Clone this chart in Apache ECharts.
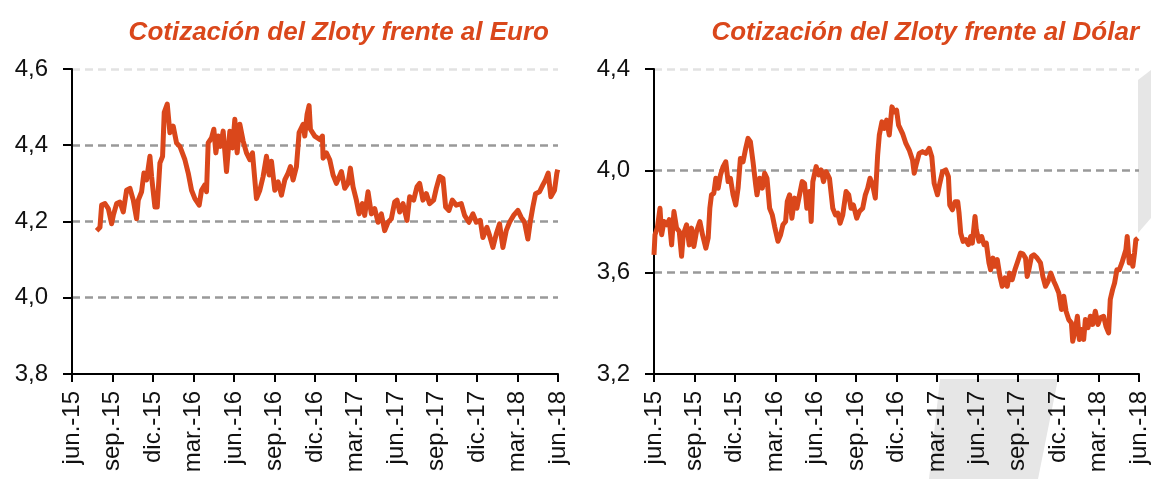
<!DOCTYPE html>
<html>
<head>
<meta charset="utf-8">
<script src="https://cdn.jsdelivr.net/npm/echarts@6/dist/echarts.min.js"></script>
<style>
html,body{margin:0;padding:0;background:#fff;}
#c{width:1151px;height:479px;}
</style>
</head>
<body>
<div id="c"></div>
<script>
// x positions are months since June 2015 (0 = jun.-15, 36 = jun.-18)
const tickLabels = ['jun.-15','sep.-15','dic.-15','mar.-16','jun.-16','sep.-16','dic.-16','mar.-17','jun.-17','sep.-17','dic.-17','mar.-18','jun.-18'];

const eurT = [1.825,2.072,2.195,2.442,2.689,2.935,3.059,3.305,3.552,3.799,4.045,4.292,4.539,4.785,4.909,5.155,5.328,5.525,5.772,5.895,6.142,6.315,6.512,6.709,6.833,7.055,7.252,7.499,7.745,7.992,8.362,8.609,8.855,9.102,9.422,9.595,9.842,9.965,10.088,10.335,10.508,10.656,10.828,11.001,11.198,11.445,11.692,11.889,12.062,12.234,12.432,12.678,12.925,13.172,13.369,13.665,13.912,14.158,14.405,14.602,14.775,15.022,15.268,15.515,15.762,16.008,16.181,16.378,16.625,16.822,17.118,17.242,17.414,17.562,17.661,17.982,
18.352,18.549,18.599,18.845,19.092,19.339,19.585,19.955,20.202,20.449,20.621,20.819,21.065,21.263,21.509,21.682,21.929,22.175,22.422,22.669,22.915,23.162,23.409,23.655,23.902,24.075,24.272,24.518,24.814,25.012,25.308,25.554,25.752,25.998,26.245,26.492,26.788,26.985,27.232,27.478,27.676,27.922,28.169,28.465,28.835,29.082,29.402,29.698,29.945,30.241,30.438,30.734,30.932,31.178,31.425,31.672,31.918,32.165,32.412,32.708,33.028,33.275,33.522,33.768,33.941,34.138,34.335,34.632,34.878,35.076,35.273,35.470,35.742,35.914,35.98];
const eurV = [4.176,4.185,4.243,4.247,4.234,4.194,4.216,4.247,4.251,4.225,4.282,4.287,4.256,4.207,4.256,4.278,4.327,4.309,4.371,4.318,4.238,4.238,4.353,4.371,4.486,4.508,4.433,4.450,4.406,4.397,4.362,4.327,4.282,4.260,4.243,4.282,4.296,4.278,4.406,4.419,4.442,4.380,4.424,4.397,4.437,4.331,4.437,4.393,4.468,4.380,4.455,4.411,4.380,4.362,4.380,4.260,4.282,4.318,4.371,4.322,4.358,4.282,4.304,4.269,4.309,4.327,4.344,4.309,4.344,4.433,4.455,4.424,4.481,4.504,4.442,4.424,
4.415,4.424,4.366,4.380,4.362,4.322,4.300,4.331,4.287,4.300,4.340,4.291,4.256,4.220,4.247,4.216,4.278,4.220,4.234,4.198,4.220,4.176,4.198,4.207,4.251,4.256,4.225,4.247,4.203,4.265,4.256,4.291,4.300,4.256,4.273,4.247,4.256,4.287,4.318,4.313,4.238,4.229,4.256,4.243,4.247,4.216,4.198,4.220,4.198,4.203,4.158,4.185,4.163,4.132,4.167,4.194,4.132,4.176,4.198,4.216,4.229,4.211,4.198,4.154,4.198,4.238,4.273,4.278,4.296,4.309,4.327,4.265,4.282,4.327,4.336];

const usdT = [0.000,0.074,0.247,0.444,0.567,0.740,0.937,1.135,1.307,1.480,1.677,1.875,2.047,2.171,2.417,2.615,2.787,2.960,3.157,3.404,3.601,3.848,4.021,4.144,4.267,4.440,4.588,4.761,4.933,5.131,5.328,5.501,5.673,5.871,6.068,6.240,6.413,6.610,6.808,6.980,7.153,7.350,7.548,7.646,7.844,8.041,8.214,8.386,8.584,8.781,8.954,9.200,9.398,9.570,9.767,9.891,10.064,10.236,10.434,10.606,10.804,11.001,11.174,11.346,11.544,11.667,11.790,12.037,12.234,12.407,12.580,12.777,13.024,13.270,13.468,13.640,13.813,14.010,14.257,14.454,14.627,14.800,15.046,15.244,15.490,15.688,15.860,16.033,16.230,16.427,16.600,16.724,16.921,17.094,17.266,17.464,17.661,17.834,18.006,18.154,
18.451,18.697,18.944,19.191,19.314,19.487,19.684,19.931,20.177,20.424,20.621,20.794,21.041,21.213,21.411,21.657,21.855,21.953,22.151,22.348,22.545,22.644,22.767,22.940,23.137,23.335,23.507,23.631,23.828,23.927,24.124,24.321,24.494,24.667,24.864,24.987,25.160,25.308,25.481,25.678,25.850,26.048,26.220,26.393,26.590,26.788,26.960,27.207,27.380,27.577,27.700,27.824,28.021,28.194,28.440,28.687,28.860,29.057,29.254,29.452,29.674,29.846,30.044,30.241,30.414,30.586,30.784,30.981,31.080,31.277,31.425,31.573,31.721,31.894,32.017,32.214,32.387,32.560,32.757,32.954,33.127,33.374,33.546,33.744,33.867,34.040,34.188,34.360,34.533,34.730,34.878,35.026,35.125,35.273,35.421,35.544,35.668,35.766,35.914];
const usdV = [3.669,3.748,3.774,3.852,3.748,3.800,3.787,3.807,3.708,3.839,3.774,3.761,3.663,3.748,3.787,3.708,3.774,3.702,3.761,3.800,3.748,3.695,3.735,3.852,3.905,3.911,3.970,3.931,3.983,4.016,4.035,3.957,3.970,3.905,3.865,3.931,4.048,4.035,4.088,4.127,4.114,4.035,3.944,3.905,3.970,3.931,3.990,3.970,3.852,3.826,3.780,3.722,3.748,3.787,3.800,3.878,3.905,3.813,3.892,3.852,3.905,3.957,3.950,3.852,3.918,3.800,3.957,4.016,3.983,4.003,3.957,3.996,3.970,3.852,3.826,3.833,3.793,3.826,3.918,3.905,3.852,3.865,3.813,3.839,3.852,3.905,3.931,3.970,3.944,3.892,4.061,4.140,4.192,4.166,4.199,4.140,4.251,4.231,4.238,4.179,
4.146,4.107,4.081,4.042,3.990,4.029,4.068,4.075,4.068,4.088,4.055,3.950,3.905,3.950,3.996,4.003,3.976,3.865,3.846,3.878,3.878,3.833,3.754,3.722,3.729,3.709,3.741,3.715,3.820,3.767,3.722,3.741,3.709,3.715,3.637,3.610,3.656,3.624,3.650,3.584,3.545,3.578,3.545,3.597,3.571,3.610,3.637,3.676,3.673,3.656,3.584,3.610,3.663,3.669,3.656,3.637,3.584,3.545,3.565,3.597,3.565,3.545,3.519,3.454,3.506,3.447,3.414,3.401,3.329,3.375,3.427,3.336,3.375,3.336,3.414,3.382,3.427,3.395,3.447,3.395,3.421,3.427,3.388,3.362,3.493,3.532,3.558,3.610,3.610,3.637,3.643,3.689,3.741,3.637,3.663,3.624,3.676,3.728,3.735];

const titles = ['Cotización del Zloty frente al Euro', 'Cotización del Zloty frente al Dólar'];

const FONT = "'Liberation Sans', Arial, sans-serif";
const ORANGE = '#DA471B';
const pair = (t, v) => t.map((x, i) => [x, v[i]]);

function xAxis(gi) {
  return {
    type: 'value', gridIndex: gi, min: 0, max: 36, interval: 3,
    axisLine: { show: true, onZero: false, lineStyle: { color: '#000', width: 2 } },
    axisTick: { show: true, inside: false, length: 8, lineStyle: { color: '#000', width: 2 } },
    axisLabel: { rotate: 90, margin: 17, fontSize: 24, color: '#111', fontFamily: FONT,
      formatter: v => tickLabels[Math.round(v / 3)] },
    splitLine: { show: false }
  };
}
function yAxis(gi, min, max, step, n) {
  const colors = [];
  for (let i = 0; i < n; i++) colors.push(i === 0 ? 'rgba(0,0,0,0)' : (i === n - 1 ? '#e2e2e2' : '#999999'));
  return {
    type: 'value', gridIndex: gi, min: min, max: max, interval: step,
    axisLine: { show: true, onZero: false, lineStyle: { color: '#000', width: 2 } },
    axisTick: { show: true, inside: false, length: 9, lineStyle: { color: '#000', width: 2 } },
    axisLabel: { margin: 24, fontSize: 24, color: '#111', fontFamily: FONT,
      formatter: v => v.toFixed(1).replace('.', ',') },
    splitLine: { show: true, lineStyle: { color: colors, width: 2.5, type: [8, 5] } }
  };
}

const chart = echarts.init(document.getElementById('c'), null, { renderer: 'canvas' });
chart.setOption({
  backgroundColor: '#fff',
  animation: false,
  title: [
    { text: titles[0], right: 597, top: 15,
      textStyle: { fontFamily: FONT, fontSize: 26, fontWeight: 'bold', fontStyle: 'italic', color: ORANGE } },
    { text: titles[1], right: 7, top: 15,
      textStyle: { fontFamily: FONT, fontSize: 26, fontWeight: 'bold', fontStyle: 'italic', color: ORANGE } }
  ],
  graphic: [
    { type: 'polygon', z: -10, silent: true,
      shape: { points: [[940, 379], [1058, 379], [1038, 479], [929, 479]] },
      style: { fill: '#e6e6e6' } },
    { type: 'polygon', z: -10, silent: true,
      shape: { points: [[1138, 80], [1151, 70], [1151, 218], [1138, 233]] },
      style: { fill: '#e6e6e6' } }
  ],
  grid: [
    { left: 72, right: 593, top: 69, bottom: 105, containLabel: false },
    { left: 654, right: 11, top: 69, bottom: 105, containLabel: false }
  ],
  xAxis: [xAxis(0), xAxis(1)],
  yAxis: [yAxis(0, 3.8, 4.6, 0.2, 5), yAxis(1, 3.2, 4.4, 0.4, 4)],
  series: [
    { type: 'line', xAxisIndex: 0, yAxisIndex: 0, data: pair(eurT, eurV), showSymbol: false,
      lineStyle: { color: ORANGE, width: 5, join: 'round' }, z: 5 },
    { type: 'line', xAxisIndex: 1, yAxisIndex: 1, data: pair(usdT, usdV), showSymbol: false,
      lineStyle: { color: ORANGE, width: 5, join: 'round' }, z: 5 }
  ]
});
</script>
</body>
</html>
